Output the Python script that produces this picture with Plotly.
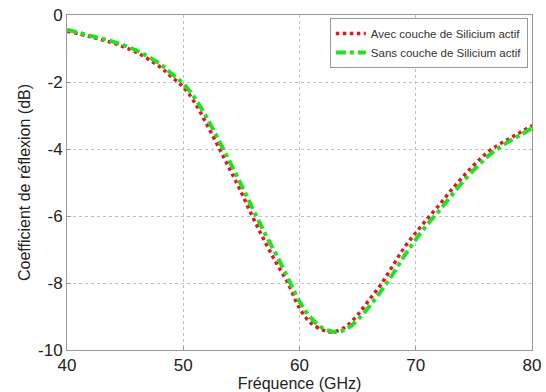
import plotly.graph_objects as go

freq_avec = [40, 42, 44, 46, 48, 49, 50, 51, 52, 53, 54, 55, 56, 57, 58, 59, 60, 61, 62, 62.5, 63, 64, 65, 66, 67, 68, 69, 70, 71, 72, 73, 74, 75, 76, 77, 78, 79, 80]
s11_avec = [-0.48, -0.65, -0.84, -1.12, -1.55, -1.85, -2.15, -2.62, -3.25, -3.92, -4.6, -5.3, -6.05, -6.75, -7.4, -8.0, -8.75, -9.2, -9.4, -9.46, -9.45, -9.3, -8.95, -8.5, -8.05, -7.5, -6.95, -6.5, -6.08, -5.68, -5.25, -4.85, -4.48, -4.15, -3.9, -3.7, -3.5, -3.3]

freq_sans = [40, 42, 44, 46, 48, 49, 50, 51, 52, 53, 54, 55, 56, 57, 58, 59, 60, 61, 62, 63, 64, 65, 66, 67, 68, 69, 70, 71, 72, 73, 74, 75, 76, 77, 78, 79, 80]
s11_sans = [-0.44, -0.62, -0.8, -1.06, -1.46, -1.75, -2.05, -2.48, -3.05, -3.7, -4.38, -5.08, -5.8, -6.5, -7.15, -7.85, -8.55, -9.05, -9.35, -9.46, -9.38, -9.1, -8.7, -8.25, -7.75, -7.2, -6.7, -6.25, -5.85, -5.42, -5.0, -4.62, -4.28, -4.0, -3.78, -3.58, -3.38]

x_ticks = [40, 50, 60, 70, 80]
y_ticks = [0, -2, -4, -6, -8, -10]

FONT = "Arial, Liberation Sans, sans-serif"

fig = go.Figure()
fig.add_trace(go.Scatter(
    x=freq_avec, y=s11_avec, mode="lines", name="Avec couche de Silicium actif",
    line=dict(color="#dc1c1c", width=3.5, dash="dot", shape="spline"),
))
fig.add_trace(go.Scatter(
    x=freq_sans, y=s11_sans, mode="lines", name="Sans couche de Silicium actif",
    line=dict(color="#22e022", width=4, dash="10px,4px,4px,4px", shape="spline"),
))

axis_common = dict(
    showline=True, linecolor="#999999", linewidth=1, mirror=True,
    showgrid=True, gridcolor="#c0c0c0", griddash="dot", gridwidth=1,
    ticks="inside", ticklen=4, tickcolor="#999999",
    zeroline=False, automargin=False,
    tickfont=dict(family=FONT, size=17, color="#222222"),
)

fig.update_layout(
    width=546, height=392,
    margin=dict(l=67, r=14, t=15, b=42),
    paper_bgcolor="white", plot_bgcolor="white",
    font=dict(family=FONT, color="#222222"),
    xaxis=dict(range=[40, 80], tickvals=x_ticks, ticktext=[str(v) for v in x_ticks],
               title=dict(text="Fréquence (GHz)", font=dict(family=FONT, size=16), standoff=0),
               **axis_common),
    yaxis=dict(range=[-10, 0], tickvals=y_ticks, ticktext=[str(v) for v in y_ticks],
               title=dict(text="Coefficient de réflexion (dB)", font=dict(family=FONT, size=16), standoff=3),
               **axis_common),
    legend=dict(
        x=0.991, y=0.991, xanchor="right", yanchor="top",
        bgcolor="white", bordercolor="#999999", borderwidth=1,
        font=dict(family=FONT, size=11.5, color="#333333"),
        itemwidth=30, tracegroupgap=0,
    ),
    showlegend=True,
)

fig.write_html("out.html", config={"displayModeBar": False},
               post_script="document.body.style.margin='0';document.body.style.overflow='hidden';")
